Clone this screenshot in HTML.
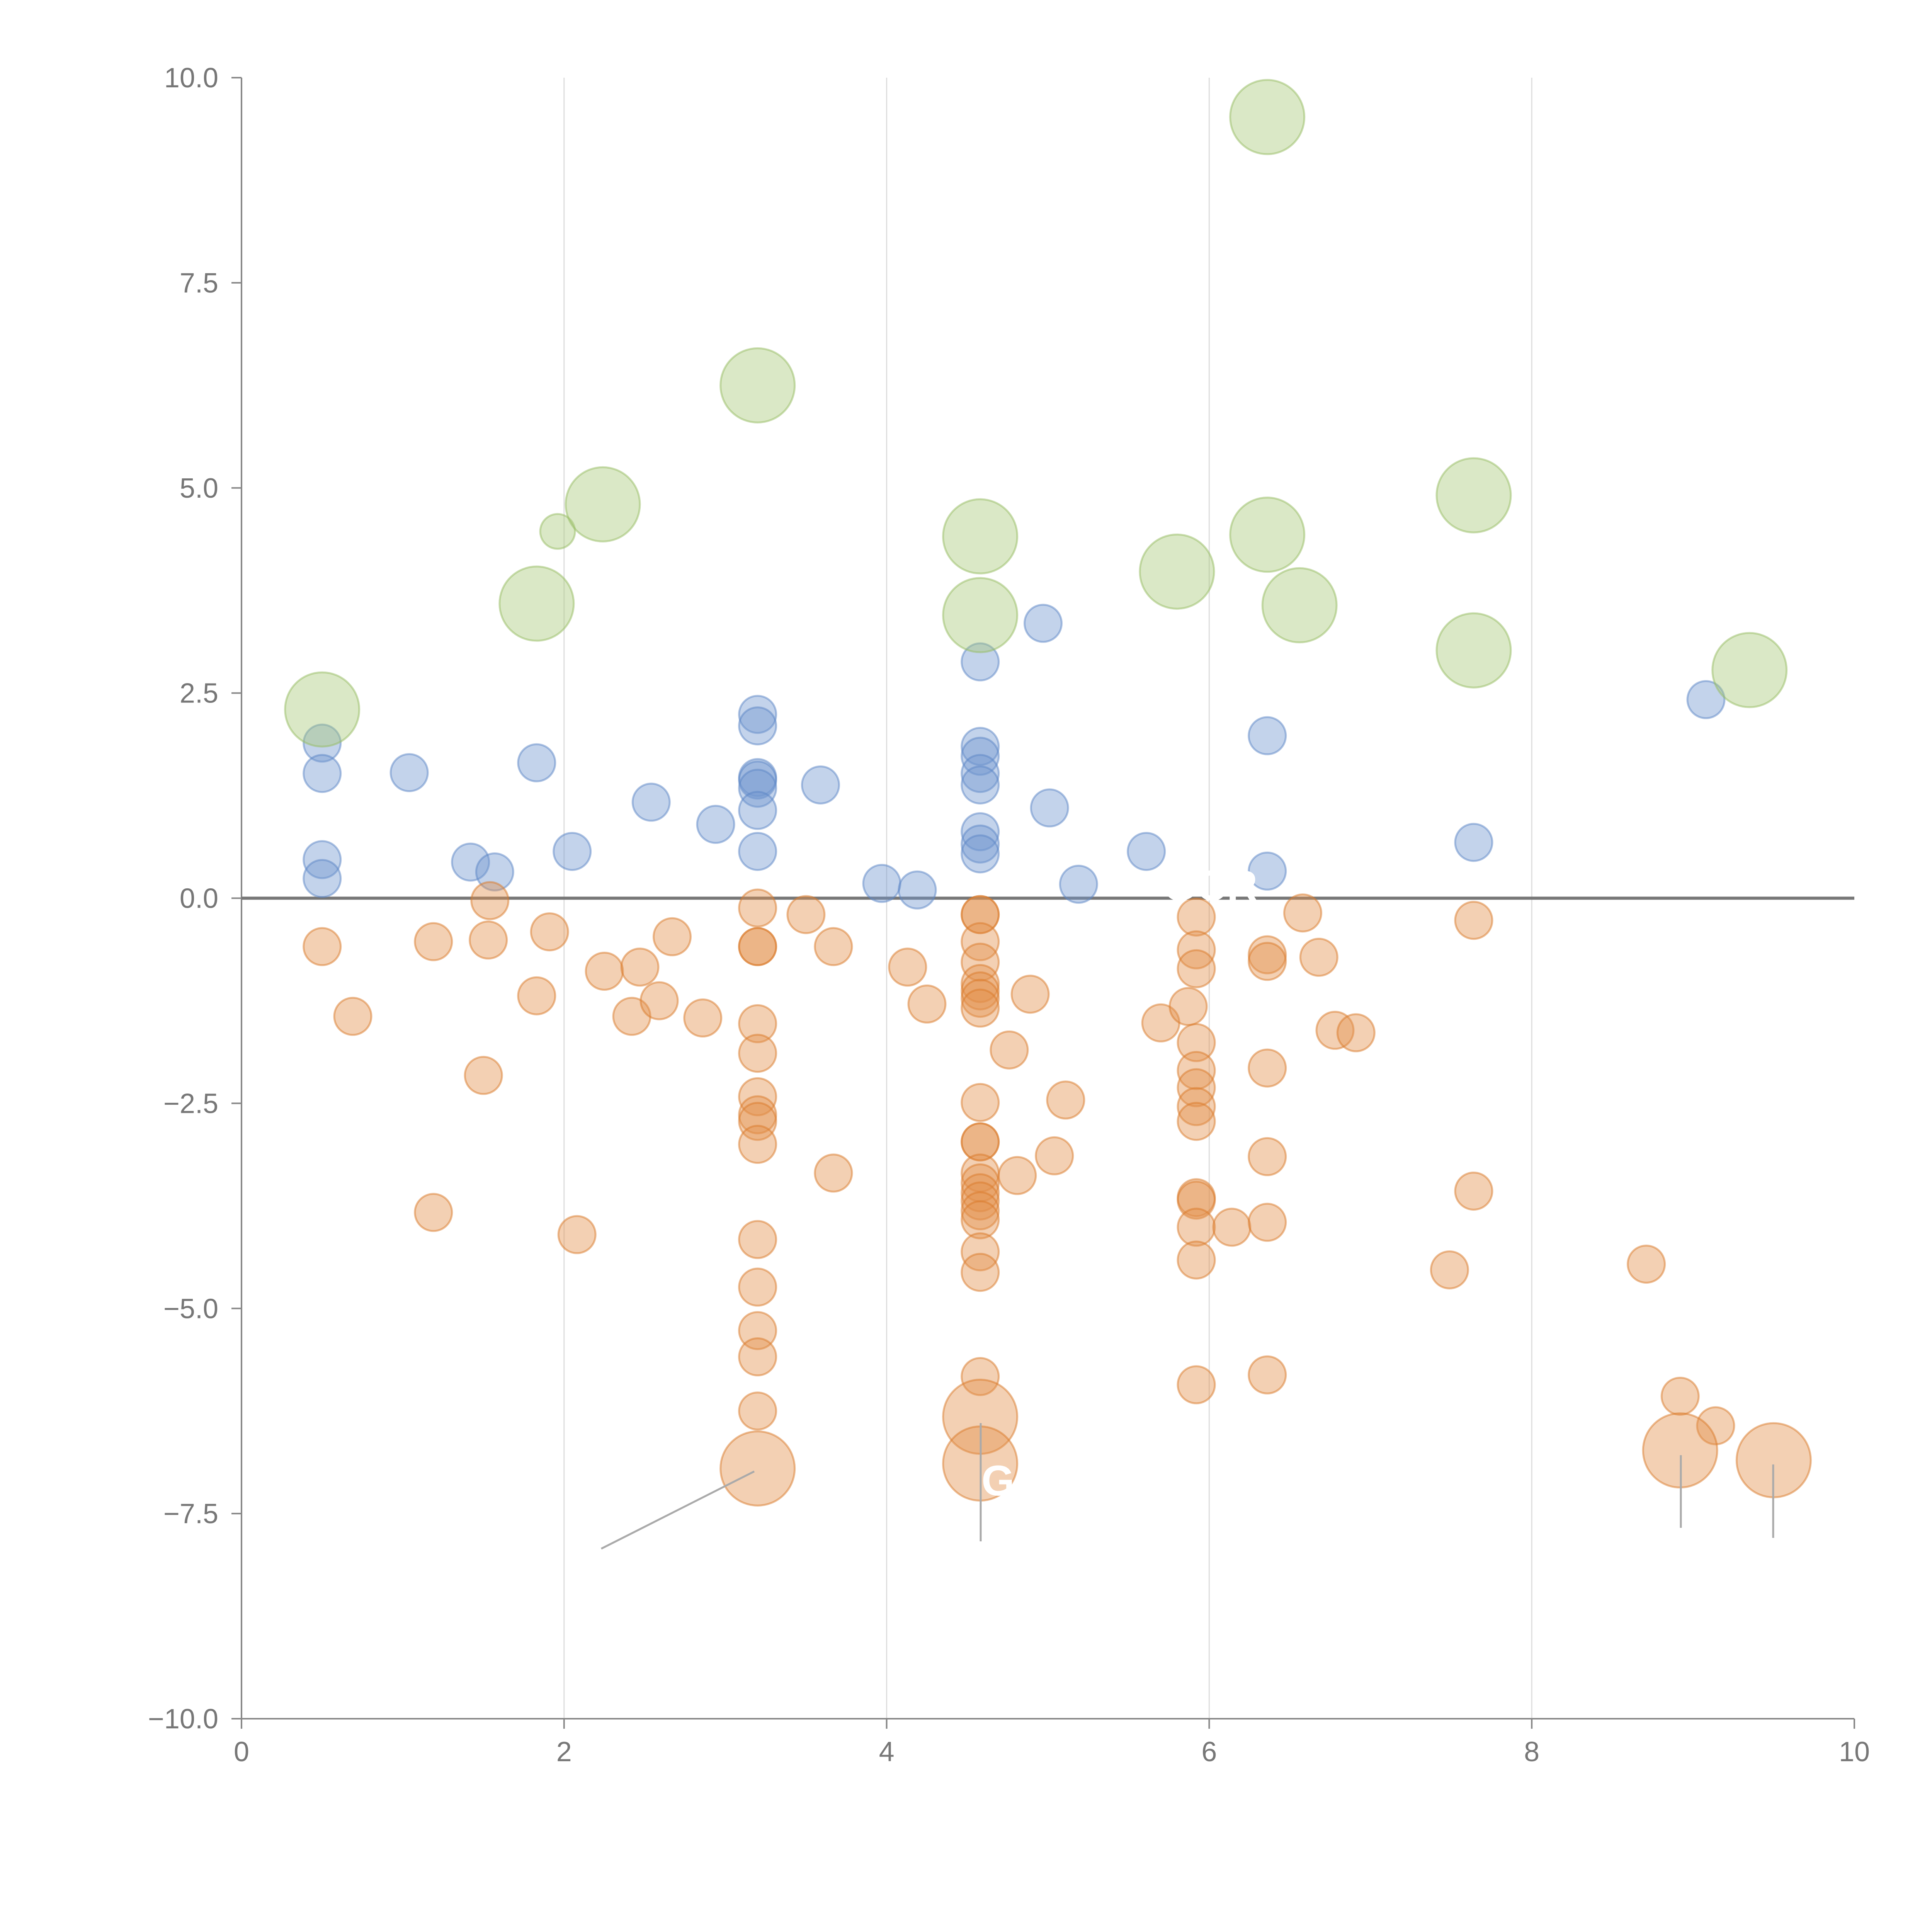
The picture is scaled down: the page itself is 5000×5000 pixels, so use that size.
<!DOCTYPE html>
<html><head><meta charset="utf-8"><style>
html,body{margin:0;padding:0;background:#fff;}
svg{display:block;font-family:"Liberation Sans",sans-serif;}
</style></head><body>
<svg id="chart" width="5000" height="5000" viewBox="0 0 5000 5000" xmlns="http://www.w3.org/2000/svg">
<g id="grid"></g>
<g id="axes"></g>
<g id="marks"></g>
<g id="leaders"></g>
</svg>
<script>
const xTicks=[0,2,4,6,8,10];
const xTickLabels=["0","2","4","6","8","10"];
const yTicks=[10,7.5,5,2.5,0,-2.5,-5,-7.5,-10];
const yTickLabels=["10.0","7.5","5.0","2.5","0.0","\u22122.5","\u22125.0","\u22127.5","\u221210.0"];

const greenX=[0.5,1.96,2.24,1.83,3.2,4.58,4.58,5.8,6.36,6.36,6.56,7.64,7.64,9.35];
const greenY=[2.3,4.47,4.8,3.59,6.25,4.41,3.45,3.98,9.52,4.43,3.57,4.91,3.02,2.78];
const greenBig=[1,0,1,1,1,1,1,1,1,1,1,1,1,1];

const blueX=[0.5,0.5,0.5,0.5,1.04,1.42,1.57,1.83,2.05,2.54,2.94,3.2,3.2,3.2,3.2,3.2,3.2,3.2,3.59,3.97,4.19,4.58,4.58,4.58,4.58,4.58,4.58,4.58,4.58,4.97,5.01,5.19,5.61,6.36,6.36,7.64,9.08];
const blueY=[1.89,1.52,0.47,0.24,1.53,0.44,0.32,1.65,0.57,1.17,0.9,2.24,2.1,1.47,1.44,1.34,1.07,0.57,1.38,0.18,0.1,2.88,1.85,1.73,1.52,1.38,0.81,0.66,0.54,3.35,1.1,0.17,0.57,1.98,0.33,0.68,2.42];

const orangeX=[0.5,0.69,1.19,1.19,1.5,1.53,1.54,1.83,1.91,2.08,2.25,2.42,2.47,2.59,2.67,2.86,
3.2,3.2,3.2,3.2,3.2,3.2,3.2,3.2,3.2,3.2,3.2,3.2,3.2,3.2,3.2,
3.5,3.67,3.67,4.13,4.25,
4.58,4.58,4.58,4.58,4.58,4.58,4.58,4.58,4.58,4.58,4.58,4.58,4.58,4.58,4.58,4.58,4.58,4.58,4.58,4.58,4.58,4.58,
4.76,4.81,4.89,5.04,5.11,5.7,5.87,
5.92,5.92,5.92,5.92,5.92,5.92,5.92,5.92,5.92,5.92,5.92,5.92,5.92,
6.14,6.36,6.36,6.36,6.36,6.36,6.36,6.58,6.68,6.78,6.91,7.64,7.64,7.49,8.71,8.92,9.14,8.92,9.5];
const orangeY=[-0.59,-1.44,-0.53,-3.83,-2.16,-0.51,-0.03,-1.19,-0.41,-4.1,-0.89,-1.44,-0.84,-1.25,-0.47,-1.46,
-0.12,-0.59,-0.59,-1.53,-1.89,-2.42,-2.64,-2.72,-3.0,-4.16,-4.74,-5.27,-5.59,-6.25,-6.95,
-0.2,-0.59,-3.35,-0.84,-1.29,
-0.2,-0.2,-0.53,-0.78,-1.04,-1.13,-1.22,-1.34,-2.49,-2.97,-2.97,-3.35,-3.47,-3.59,-3.69,-3.81,-3.92,-4.31,-4.56,-5.83,-6.32,-6.89,
-1.85,-3.38,-1.17,-3.14,-2.46,-1.52,-1.32,
-0.23,-0.63,-0.86,-1.76,-2.1,-2.31,-2.54,-2.72,-3.65,-3.68,-4.01,-4.41,-5.93,
-4.01,-0.69,-0.77,-2.07,-3.15,-3.95,-5.81,-0.18,-0.72,-1.61,-1.64,-0.27,-3.57,-4.53,-4.46,-6.07,-6.43,-6.73,-6.85];
const orangeBig=[0,0,0,0,0,0,0,0,0,0,0,0,0,0,0,0,
0,0,0,0,0,0,0,0,0,0,0,0,0,0,1,
0,0,0,0,0,
0,0,0,0,0,0,0,0,0,0,0,0,0,0,0,0,0,0,0,0,1,1,
0,0,0,0,0,0,0,
0,0,0,0,0,0,0,0,0,0,0,0,0,
0,0,0,0,0,0,0,0,0,0,0,0,0,0,0,0,0,1,1];

const X0=625,X1=4799,Y0=4448,Y1=201;
function sx(v){return X0+(v-0)/(10-0)*(X1-X0);}
function sy(v){return Y0-(v+10)/20*(Y0-Y1);}
const NS="http://www.w3.org/2000/svg";
function mk(tag,attrs,parent){const e=document.createElementNS(NS,tag);for(const k in attrs)e.setAttribute(k,attrs[k]);parent.appendChild(e);return e;}
const grid=document.getElementById('grid'),axes=document.getElementById('axes'),marks=document.getElementById('marks'),leaders=document.getElementById('leaders');

xTicks.forEach((t,i)=>{
  if(t>0&&t<10){const g=mk('line',{x1:sx(t),x2:sx(t),y1:Y1,y2:Y0,stroke:'#dddddd','stroke-width':3},grid);
  
  }
  const tk=mk('line',{x1:sx(t),x2:sx(t),y1:Y0,y2:Y0+26,stroke:'#888','stroke-width':4},axes);
  
  
  const tx=mk('text',{x:sx(t),y:Y0+110,'text-anchor':'middle','font-size':72,fill:'#777'},axes);
  tx.textContent=xTickLabels[i];
  
  
});
yTicks.forEach((t,i)=>{
  const tk=mk('line',{x1:X0-26,x2:X0,y1:sy(t),y2:sy(t),stroke:'#888','stroke-width':4},axes);
  
  
  const tx=mk('text',{x:X0-60,y:sy(t)+25,'text-anchor':'end','font-size':72,fill:'#777'},axes);
  tx.textContent=yTickLabels[i];
  
  
});
const ya=mk('line',{x1:X0,x2:X0,y1:Y1,y2:Y0,stroke:'#888','stroke-width':4},axes);


const xa=mk('line',{x1:X0,x2:X1,y1:Y0,y2:Y0,stroke:'#888','stroke-width':4},axes);



function series(xs,ys,big,fill,stroke,name,rs,rb){
  xs.forEach((x,i)=>{
    const r=big&&big[i]?rb:rs;
    const c=mk('circle',{cx:sx(x),cy:sy(ys[i]),r:r,fill:fill,'fill-opacity':0.42,stroke:stroke,'stroke-opacity':0.5,'stroke-width':5},marks);
    
    
  });
}
series(blueX,blueY,null,'#7097d0','#5c86c6','blue-point',48,48);
series(orangeX,orangeY,orangeBig,'#e2904a','#d97a2a','orange-point',48,96);
series(greenX,greenY,greenBig.map(v=>v),'#a8c878','#95bb62','green-point',45,96);

const zl=mk('line',{x1:X0,x2:X1,y1:sy(0),y2:sy(0),stroke:'#777','stroke-width':8},axes);



[[1556,4008,1952,3808],[2538,3683,2538,3989],[4350,3766,4350,3954],[4589,3790,4589,3980]].forEach(l=>{
  const e=mk('line',{x1:l[0],y1:l[1],x2:l[2],y2:l[3],stroke:'#aaa','stroke-width':5},leaders);
  
  
});
const t1=mk('text',{x:3010,y:2330,'font-size':110,fill:'#fff','font-weight':'bold'},leaders);
t1.textContent='GCR';


const t2=mk('text',{x:2540,y:3870,'font-size':110,fill:'#fff','font-weight':'bold'},leaders);
t2.textContent='G';


</script>
</body></html>
